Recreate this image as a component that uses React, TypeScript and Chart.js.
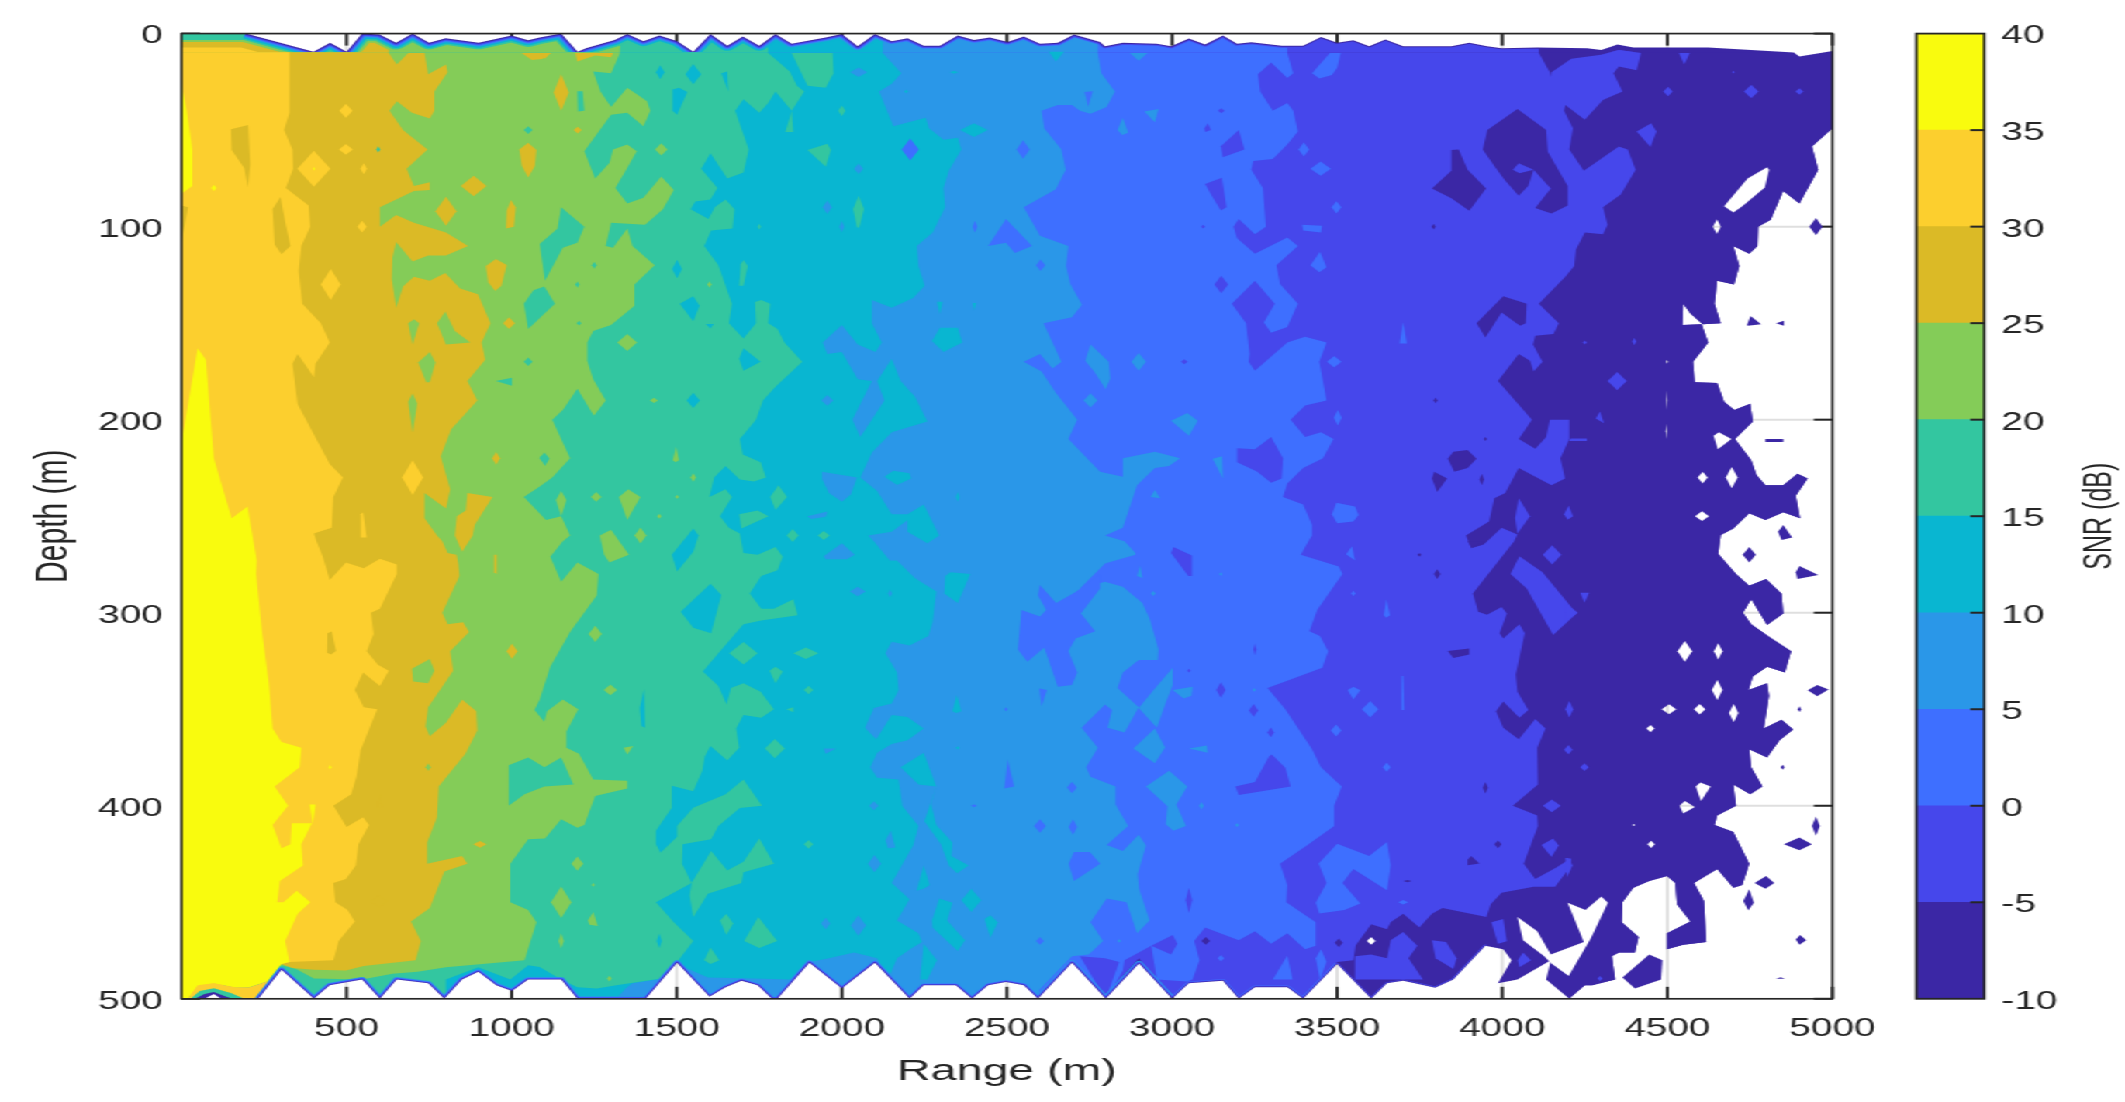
import React, { useEffect, useRef } from "react";
import { Chart, registerables } from "chart.js";

const eraser = {
  id: "eraser",
  beforeDatasetDraw(chart: any, args: any) {
    if (chart.data.datasets[args.index].erase) chart.ctx.globalCompositeOperation = "destination-out";
  },
  afterDatasetDraw(chart: any) {
    chart.ctx.globalCompositeOperation = "source-over";
  },
};
Chart.register(eraser, ...registerables);

const xTicks = [500, 1000, 1500, 2000, 2500, 3000, 3500, 4000, 4500, 5000];
const yTicks = [0, 100, 200, 300, 400, 500];
const levels = [-10, -5, 0, 5, 10, 15, 20, 25, 30, 35];
const colorbarMax = 40;
const bandColors = ["#3B27A5", "#4647EB", "#3E6FFF", "#2A97E8", "#09B6D1", "#33C6A0", "#84CC58", "#DBBA26", "#FCCF2E", "#F9FB0E"];

// contour boundaries, pairs of range (m), depth (m): the band lies to the left
const boundaryM10 = [5000,9,5000,49,4938,58.5,4957,70.5,4900,88,4851,81.6,4813,96.4,4775,100,4773,110,4748,114,4700,110,4718,120.4,4702,130,4651,128,4643,140,4662,150,4607,150.6,4570,145,4548,140,4546,151,4604,150.6,4624,160,4578,170,4583,180.6,4651,181,4672,190.7,4703,195,4751,191.7,4759,201,4705,210,4754,221,4770,228.6,4797,234,4851,234,4894,228,4925,230.5,4889,239.4,4902,251,4851,248,4797,252,4748,248.5,4700,256.4,4662,259.7,4654,269.4,4708,280,4748,286,4799,282.5,4846,290.2,4851,300.4,4802,306.3,4754,293,4729,300,4754,306,4808,312.4,4875,320,4856,331,4802,328,4759,333,4746,340,4802,336.5,4808,343,4792,360,4846,355.5,4881,360.5,4840,366,4802,375,4748,370.7,4754,380,4788,390,4751,394,4700,389,4708,400,4651,405,4643,410,4700,413.6,4748,430,4727,441,4700,442.5,4651,432.7,4581,440,4611,449.3,4618,470.6,4548,472,4499,474.3,4499,466,4570,460,4529,451,4524,440,4499,436.4,4445,439,4397,442.5,4364,450,4362,460.4,4413,468,4402,476,4353,476,4332,478,4342,490,4272,493,4250,493,4202,500];
const boundaryM5 = [4111,10,4144,20,4160,30,4144,31,4149,20,4209,13,4299,11,4353,8.5,4420,10,4407,19,4353,17,4337,20.5,4364,30,4305,34.4,4250,44.6,4191,37,4187,40,4214,49,4203,60,4247,71,4353,58.5,4380,60,4404,70.5,4359,83.4,4305,90,4319,99,4305,104,4250,103,4223,112,4218,120.4,4191,126,4111,140,4171,150,4155,155.6,4100,156.5,4093,161,4122,170,4095,175,4084,169.5,4050,166,3987,180,4090,200,4050,210,4100,215,4133,209,4144,200,4203,200,4203,210,4176,220,4190,230.5,4149,234,4050,225,4009,238,3976,240.7,3960,252.7,3890,260,3906,266.6,3944,264.7,3998,256,4046,259.5,4036,263,3911,290,3927,299.5,3954,301,3998,297,4014,300.4,3992,310.6,4003,313.3,4052,306,4068,310.6,4041,332,4046,341,4079,350.4,4052,354.4,4003,346,3981,351,4003,359.6,4050,365.5,4100,355,4131,360,4106,370,4108,389,4032,400,4106,405,4108,410.5,4065,430,4100,438,4165,431.8,4209,427,4209,431,4160,442,4095,442,3998,445,3965,451,3952,457.6,3819,453,3787,456,3749,463,3700,456,3662,460.4,3651,464,3603,461.4,3556,472.4,3549,480,3500,481,3397,500];
const boundary0 = [3349,10,3367,20.5,3349,23,3300,15,3260,21,3267,30,3305,40,3349,36,3367,40,3381,50.7,3349,57.5,3305,65,3246,66,3240,70.5,3275,80,3284,100,3251,104,3202,96,3186,100,3197,106,3251,114,3349,105.6,3381,110,3316,120,3327,129.7,3381,140,3349,152,3300,155,3278,149.7,3311,140,3251,128,3181,140,3224,150,3235,166,3232,170,3251,174.6,3349,160,3403,157,3468,160,3446,170,3468,190,3403,192.6,3359,200,3403,209,3451,206.5,3489,210,3457,220,3397,225,3349,233,3336,240,3397,244,3424,254.6,3424,260,3413,263,3390,270,3505,276,3516,280,3440,298.5,3416,309.6,3448,312,3473,320,3455,328.5,3359,334.6,3289,339,3343,350,3424,370.7,3451,380,3514,390,3491,400,3491,410.5,3408,420.6,3327,430,3349,441,3346,450,3435,460.4,3435,472.5,3403,474.3,3349,466,3300,471.5,3251,465,3202,469.7,3100,463,3067,470,3083,480,3062,490,3046,491,2954,490,2937,472.5,2856,480,2851,485.4,2802,500];
const boundary5 = [2775,10,2786,20.5,2827,30,2802,38,2753,41.5,2721,40,2697,37,2654,37,2605,40,2613,49,2665,60,2678,70.5,2648,80.6,2551,90,2600,104.7,2686,110,2679,120.4,2692,129.7,2727,140.4,2697,147,2611,150,2665,170,2638,173.5,2600,166,2551,170,2605,175,2648,186,2713,200,2686,210,2782,227,2851,229.6,2851,220,2948,216.6,3024,220,2991,224,2948,225,2894,234,2851,256,2797,260,2856,263,2889,269,2889,270,2797,274.5,2721,287.5,2797,284,2851,286.5,2910,295,2932,303,2959,319,2957,324.5,2899,324.5,2851,331,2835,339,2899,349,2856,362,2805,359.6,2818,350.4,2797,347.6,2726,359.6,2775,370,2740,380,2753,385,2829,390,2829,399.4,2867,410.5,2802,420.3,2851,423.4,2899,415,2921,420.6,2896,435.4,2900,443,2932,459.5,2894,466,2862,450,2802,448,2753,460.4,2791,470,2748,477,2697,478,2600,495,2592,500];
const boundary10 = [2124,10,2180,20.5,2151,26,2113,30,2156,48,2254,43.6,2264,49,2308,55,2351,54,2362,60,2324,71,2308,80,2313,90,2275,103,2227,110,2232,120.4,2251,130.6,2216,137,2151,142,2091,138,2091,150,2121,160,2102,165,2048,161,2000,151,1942,160,1956,166,2000,165,2048,179,2091,180,2032,200,2056,209,2129,190,2107,180,2151,168.5,2178,180,2221,188,2259,201,2151,206.5,2091,217,2056,230,2107,237,2151,249,2199,249,2248,244,2295,260,2259,264,2199,258,2199,252,2151,258,2080,260,2097,263,2145,273,2167,273,2221,282,2286,289,2275,305,2262,312,2205,317,2151,315,2132,321,2167,331,2172,340,2151,347,2097,349.4,2070,359.6,2104,365.5,2151,353,2199,354,2248,360,2199,366,2151,368,2107,372.6,2086,380,2107,385.5,2172,386.4,2183,400,2232,410.5,2216,420.6,2151,440,2205,448.4,2167,459.5,2232,466,2243,470.6,2210,474,2167,479,2140,490,2107,479,2037,476,1961,479,1902,481,1842,490,1734,489.5,1594,489,1501,482,1442,490,1366,492,1345,494.6,1317,500];
const boundary15 = [1777,10,1842,19.6,1864,27,1886,30,1848,40,1853,51,1829,51,1848,40,1799,30,1777,36,1750,41,1702,34,1677,40,1718,60,1702,72,1653,75,1602,62,1574,70,1623,80,1602,86,1556,87,1542,91,1596,96,1615,90,1648,86,1675,91,1669,101,1604,102,1583,110,1626,120,1667,140,1658,150,1702,158,1740,150,1737,139,1756,138,1783,140,1777,150,1805,153,1826,160,1880,170,1799,183,1761,190,1740,200,1691,210,1700,218,1754,222,1770,230,1734,232,1691,231,1648,224,1613,230,1599,240,1648,236,1667,240,1631,250,1658,256,1691,259,1702,269,1745,270,1799,266,1821,271,1805,278,1756,281,1721,290,1756,298,1794,298,1853,293,1866,301.3,1756,304,1702,306,1626,321,1579,330.4,1626,338,1651,347.6,1664,339,1702,336.5,1754,341,1794,350,1756,354.4,1702,353,1680,360,1689,370,1653,376.6,1602,369,1585,374.4,1577,382,1550,392.5,1485,389.6,1485,401,1437,413,1437,420,1451,424.4,1501,416,1501,410.5,1550,401,1648,394,1702,386.4,1758,400,1691,401.2,1626,410.5,1604,417.3,1518,420,1516,430,1545,440,1437,450,1491,460.4,1550,470,1501,481,1453,489.5,1317,493,1258,494.6,1199,494,1150,490,1085,483.5,1050,482.6,996,490,899,483.6,801,490,801,500];
const boundary20 = [1328,10,1301,20.5,1247,19.6,1269,30,1301,38,1350,28,1410,35,1420,40,1399,48,1350,41,1301,42,1220,61,1253,75,1296,67,1307,60,1350,57.5,1379,61,1345,71,1314,80,1350,88,1399,85,1453,74,1491,81,1458,91,1404,99,1301,98,1285,110,1307,111,1350,101,1366,110,1433,120,1372,130,1372,141,1301,151,1247,154,1229,160,1229,169.5,1247,179,1285,190,1249,198,1199,184,1155,195,1123,200,1177,220,1123,230,1085,234.6,1037,240,1104,252,1150,250,1177,260,1155,263,1117,271,1150,284,1199,274,1263,280,1258,291,1177,310,1117,328,1085,345,1069,350.4,1099,356.5,1107,351,1155,345,1202,350,1166,361.5,1166,370,1204,373,1247,386.4,1350,387,1350,391,1253,395,1220,410,1199,411.4,1150,407,1101,417,1050,417.3,996,430,996,450,1050,454,1075,460.4,1039,480,801,483.6,715,486,639,487,547,490,401,489.5,347,484.6,303,482.6];
const boundary25 = [628,10,652,16,687,10,736,10,747,21,801,16,806,20,766,30,766,40,752,44,698,41,652,35,630,40,671,50,745,60,682,70,704,79,752,77,752,81,704,81.6,601,90,601,100,650,94,704,98,801,103,868,110,801,115,747,115,700,118,650,108,639,116,637,127,650,142,671,131,704,126,752,128,799,124,844,132,898,135,936,150,909,160,920,169,866,180,896,190,817,205,785,219,814,236,801,246,736,238,736,251,774,260,790,263,806,269,833,270,839,275,842,281,790,300,806,306,853,305,871,310,814,320,823,330,747,349,739,359,752,364,801,357,850,345,893,351,896,361,860,373,779,390,774,406,744,419,744,430,850,426,866,430,796,434,752,453,695,460,725,470,709,480,552,483,498,485.4,401,485,336,484,303,482];
const boundary30 = [327,10,327,41,311,50,336,60,338,70,316,80,385,89,390,100,363,110,355,123,366,140,422,150,449,160,406,171,401,178,352,166,336,171,352,192,449,223,489,230,460,240,455,256,401,259,409,263,428,271,449,283,498,274,552,277,601,272,652,275,652,280,601,298,574,300,582,311,561,320,595,327,628,330,601,338,550,331,525,340,552,349,593,350,543,371,530,385,514,394,460,400,500,411,550,406,568,410,536,420,528,431,498,438,460,440,466,450,503,454,525,460,476,470,460,480,327,481,303,482];

const polysDark = [
  [3787,80.3,3846,71,3846,60.3,3868,60,3895,70.5,3951,80.3,3900,91.8,3846,85.3],
  [3941,60,3955,50,4046,39,4133,50,4138,61.2,4198,79,4198,89,4149,93.2,4100,90.3,4147,80.3,4095,70.5,4079,78.8,4050,84,4008,76,3976,68.6],
  [3922,150,4003,136,4074,140,4071,150,4054,151.3,3998,144.5,3949,157.4],
  [3835,220.3,3852,216.6,3895,215.7,3922,220.3,3895,225,3855,227],
  [3787,230.5,3794,227,3833,230.5,3803,237.5],
  [3835,319.8,3900,318.5,3900,321.7,3852,323.5],
  [3895,428,3906,426,3931,429.9,3895,430.8],
  [3895,263,3954,263,3906,266],
  [4741,151,4752,146.3,4784,150.6,4743,151.3],
  [4829,150,4853,148.7,4853,151.3],
  [4797,210,4851,210,4851,211.5,4797,211.5],
  [4835,258,4851,254.5,4878,261,4846,262.3],
  [4889,279,4900,275.8,4957,280.4,4894,282.5],
  [4925,340.2,4954,337.4,4988,339.8,4954,343.3],
  [4853,420,4900,416.4,4938,420,4900,423],
  [4764,440,4799,436.4,4824,440,4797,443],
  [4730,449.3,4748,443.2,4762,450.2,4745,454.3],
  [4889,469.3,4902,467,4921,469.7,4900,472],
  [4829,489.6,4856,489.6,4843,488.8],
  [4364,489,4445,477,4485,480,4481,490,4402,494.6],
  [2851,500,2851,488,2900,479,2937,488,2950,500],
];
const diamondsDark = [[3792,100,6,1.5],[3798,190,6,1.5],[3949,210,5,1],[3749,270,6,1],[3803,280,10,2.5],[3987,420,11,2],[3949,390.7,8,3],[3938,231,7,3],[3713,439,13,0.6],[4950,100,20,4.5],[4748,270,20,4],[4900,350,5,1.5],[4849,380,6,1.3],[4950,410.5,12,5],[3102,470,13,2],[3505,471,12,2.3]];
const polysIndigo = [
  [3148,58.4,3202,50,3219,60,3154,64],
  [3100,77.9,3151,74.7,3165,90,3148,91.7,3127,86],
  [3197,214.8,3251,215.3,3300,209,3336,220,3332,230.5,3300,232.7,3257,226.8,3197,222],
  [2997,269,3004,266,3060,270.4,3060,281,3049,281],
  [3098,49.2,3108,46.4,3118,50,3100,51],
  [3192,390,3251,387.7,3294,374.4,3302,373.5,3343,380.3,3359,390,3202,394.4],
  [2937,472.5,3002,467,3016,471.5,2997,477],
  [2721,478,2797,479,2840,481,2799,500],
  [3554,478,3603,477,3651,479,3662,469.7,3700,465.4,3743,472.5,3716,479,3760,490,3554,490],
  [3787,469.7,3830,470.6,3862,479,3852,484.5,3798,479],
  [3967,460.4,4003,458.6,4014,470.2,3987,471.5],
  [4047,480,4063,476,4087,480,4052,483.6],
  [4032,70.5,4050,67.1,4095,70.5,4052,72.3],
  [4039,250.9,4050,240.7,4084,250,4046,259],
  [4187,249,4201,244.4,4214,250,4198,251.8],
  [4025,280,4052,270.8,4122,279,4225,300.4,4154,311.5,4074,287.5],
  [4236,289.7,4263,289.7,4249,294.9],
  [4119,420.3,4154,417,4171,420.6,4149,426.6],
  [4407,50.7,4451,46.4,4467,50.7,4449,58.8],
  [4535,10,4568,10,4551,16],
  [4283,199.4,4296,195.7,4308,201.8],
  [4207,209.8,4256,209.8,4256,211,4202,211],
  [4191,295,4229,300,4191,304.5],
  [4191,427,4202,427,4213,431,4196,437],
];
const diamondsIndigo = [[3149,130,21,4.5],[3149,40,10,1.3],[3094,100,6,1],[3037,170,10,1.3],[3251,319,5,3],[3051,330,5,1],[3148,340,14,4],[3247,350.6,14,3.3],[3299,362,10,2.5],[3051,449,10,6.5],[4151,270,28,5],[4150,400,27,3.3],[4200,371,13,2.5],[4249,380,13,2],[4203,350,12,4.3],[4502,30,14,2.5],[4754,30,22,3.5],[4900,30,12,1.7],[4700,20,4,0.7],[4250,160,6,1],[4400,159.5,6,2],[4348,180,29,4.7],[4296,489.5,8,1.3]];
const polysRoyal = [
  [2443,110,2497,96,2576,110,2524,113.6,2497,108.4],
  [2735,30.3,2760,29.8,2746,37.7],
  [2600,285.6,2649,295,2708,289.3,2782,280,2782,287.5,2724,300.4,2767,309.6,2708,313.4,2686,319.8,2713,331,2697,337.4,2654,338.3,2613,318,2562,325.4,2533,319,2544,298.6,2600,301.9,2619,298.6,2594,291],
  [2598,339.3,2621,340,2605,348.5],
  [2492,391,2502,376,2522,390],
  [2687,430,2703,424,2751,424,2782,430,2703,439],
  [3424,20.5,3478,10,3511,10,3500,17.8,3484,21.5,3446,23.3],
  [3394,99,3454,99.5,3451,103,3397,102],
  [3419,120,3448,113,3468,121,3446,123.6],
  [3484,249,3498,243,3554,245,3565,249.4,3549,252.7,3500,253.6],
  [3689,160.6,3700,149.5,3711,160.6],
  [3527,269.7,3545,265.6,3554,273],
  [3641,301.3,3649,293,3660,301.3,3649,302.6],
  [3695,332.8,3700,332.8,3703,350.4,3695,350.4],
  [3532,340,3549,338.3,3570,340.2,3549,345],
  [3305,490,3349,477.6,3365,490],
  [3435,479,3451,474.3,3468,480.8,3448,490],
  [3500,419.7,3597,426,3651,418.8,3662,430.8,3651,443.8,3549,432.7,3516,440,3570,450.6,3522,454,3446,455.8,3435,450.3,3468,440,3444,429.9],
];
const diamondsRoyal = [[2549,60,20,4.8],[2207,60,26,5.7],[2602,120,14,3],[2403,100,7,3],[2497,350,5,1],[2400,400,9,0.8],[2697,390.5,15,3],[2600,410.5,18,3.5],[2700,411,13,4],[2600,470,12,2],[3399,60,16,3.7],[3450,70,31,3.7],[3498,90,15,3.2],[3491,170,22,3],[3502,199,12,4],[3650,380,12,2.4],[3600,350,25,4.3],[3497,361,16,3.1],[3700,450,15,1.2],[3549,290,6,1.5],[3148,479,10,1.7]];
const polysBlue = [
  [2835,50,2851,43.6,2867,51.4,2849,52.5],
  [2916,40.3,2959,39,2948,45.9],
  [2872,10,2926,10,2899,14],
  [2737,169.5,2753,161,2808,170,2813,178.7,2799,184.3,2764,175],
  [2997,200.5,3046,196.6,3078,200.5,3051,208.3],
  [3123,220.3,3152,219,3154,230.5],
  [2935,240,2948,236.4,2964,240.7],
  [2894,281,2903,275.4,2910,282],
  [3002,340,3062,338.3,3059,343,3035,344.4],
  [2899,349.4,2948,339.3,3002,328.5,3002,337.4,2981,346.6,2954,359.6],
  [2883,370.3,2948,360,2979,369.8,2948,378],
  [2921,390,2991,381.8,3046,390,3013,399.4,3042,410.5,3004,413,2981,409.6,2986,400.3],
  [3051,370.3,3105,368.8,3108,372.5],
  [1940,227,2046,230,2027,238.8,2000,242.5,1961,238,1940,230.7],
  [1896,250,1956,247.6,1951,250.3,1907,251.4],
  [1945,270.8,2000,264,2039,270,2015,272.3,1951,272.3],
  [1945,370.3,1983,370.3,1951,373],
  [2132,418,2148,413,2162,421.6,2140,422],
];
const diamondsBlue = [[2899,170,22,4.6],[2753,190,21,3.7],[2943,290,7,1.3],[3148,280,5,1],[3089,400,7,2],[3197,410,6,1],[3249,340,5,1],[2840,470,6,0.8],[2051,20,26,2.5],[1956,90,14,3.5],[2000,100,7,3],[2051,70,14,2.7],[1956,190,18,2.8],[2048,289,24,2.5],[2146,290,6,2],[2097,400,14,2.3],[2099,430,20,4.5],[1951,461,14,3],[2050,462,23,5.3]];
const polysCyan = [
  [1635,20.5,1653,19.6,1656,30],
  [1487,28.9,1507,28,1532,30.3,1501,42,1487,40],
  [1509,140,1550,136,1569,141,1550,149],
  [1588,150.4,1612,150.4,1602,152.8],
  [1689,168.5,1702,163,1754,170,1702,174.6],
  [1485,270,1550,256.4,1566,260,1550,268.4,1501,278.6],
  [1512,299.5,1602,285,1635,290.8,1604,310.6,1550,307.8],
  [1388,349.4,1401,339.6,1404,359.6,1393,358.7],
  [2273,159.3,2297,152.4,2351,152.4,2365,160,2308,165],
  [2129,229.6,2156,226.4,2205,227.7,2210,230.5,2167,233.8],
  [2288,138.9,2305,138.9,2297,145.4],
  [2396,139.5,2407,139.5,2400,143.5],
  [2627,9.4,2673,9.4,2648,14.4],
  [2313,281,2329,279,2389,280,2351,295,2310,290],
  [2335,351,2348,342.6,2362,351,2346,352],
  [2178,380,2248,372.6,2286,390,2232,389],
  [2286,390,2270,399,2286,410,2335,419,2332,426,2384,431,2349,435,2324,431,2300,420,2250,408],
  [2226,444,2248,431,2266,441,2248,443],
  [2273,459.5,2295,448,2335,450.3,2319,459.5,2373,469.7,2351,475.2,2275,463.2],
  [2432,458.6,2450,456.7,2472,460.4,2450,468.4],
  [2248,471.5,2288,480,2259,490,2237,490],
];
const diamondsCyan = [[1450,20,13,3.6],[1550,21,24,5.2],[1501,122,15,4.8],[1550,190,20,4],[1447,470,8,3.8],[2400,50,42,3.5],[2195,30,6,1],[2340,20,13,0.8],[2351,240,5,2.5],[2351,370,6,0.8],[2392,449,30,6]];
const polysTeal = [
  [1085,109,1139,101,1150,90,1220,100,1199,108.4,1155,111,1101,128],
  [1037,140,1066,133,1099,131,1131,140,1050,153],
  [952,180,1001,178.3,1001,182.4],
  [1085,219,1115,220,1101,224],
  [1199,29.8,1215,29.8,1220,40,1201,40.3],
  [991,379,1050,375,1099,380,1150,375,1187,389,1099,390,1039,394,991,400],
  [1848,10,1972,10,1975,20.5,1951,28,1896,27],
  [1896,60.3,1956,57,1967,60.3,1951,69],
  [2034,90.8,2051,84,2067,90.8,2053,100.4,2046,100.4],
  [1689,130.6,1694,119.5,1702,117.3,1715,120.4,1702,130.6],
  [1783,240,1808,234,1834,240,1799,246.8],
  [1689,249,1745,247,1778,250,1696,256.4],
  [1604,423.4,1653,433.6,1702,429,1750,417,1794,430,1702,434.5,1696,440,1594,445.6,1550,457.7,1539,446.5,1545,440],
  [1781,330,1799,328,1821,330.4,1799,336.5],
  [1832,350,1853,349,1853,351.6],
  [1631,459.5,1650,456,1671,461,1650,467],
  [1704,470,1747,457.6,1804,470,1750,473.7],
  [1583,480,1602,473.4,1629,480,1602,482],
];
const diamondsTeal = [[1050,50,13,2],[1050,170,13,2.2],[1099,220,15,3],[1250,120,7,1.8],[1199,130,6,1.6],[1204,150,7,1.2],[596,60,6,1.6],[2000,40,11,2.8],[1851,260,18,3.4],[1750,100,5,1.5],[1945,260,18,2.3],[1702,321,43,5.8],[1891,321,38,3],[1899,340,14,2.2],[1797,370.4,30,5],[1899,420,14,2.3]];
const polysGreen = [
  [687,150,704,148,720,150,700,161],
  [774,150,799,144,828,154,875,160,801,161],
  [717,170.4,752,165,769,170.4,752,180.6,741,180.6],
  [687,190.7,700,186.5,714,191.6,700,206.8],
  [698,329,752,324,766,330,747,336.5,702,335.6],
  [1134,241.6,1150,237,1166,241.6,1150,250],
  [1325,240,1353,236,1390,240,1350,252],
  [1267,260,1301,257,1355,270,1296,274,1280,270],
  [1488,221,1498,214,1507,221,1496,222],
  [1339,370,1368,369,1350,373.5],
  [1231,459.5,1247,455,1261,462.3,1236,461.7],
];
const diamondsGreen = [[747,380,8,2],[1453,60,19,3.2],[1599,130,6,1.7],[1350,160,30,4.4],[1431,190,12,1.3],[1550,230,8,2.2],[1256,240,16,2.5],[1501,240,6,1],[1447,250,7,1.3],[1390,260,18,4.2],[1253,311,20,4.2],[1299,340,20,2.8],[1199,430,18,3.7],[1150,450,31,8.2],[1150,470,8,4],[1247,441,5,1],[1296,489.5,7,1.5]];
const polysOlive = [
  [150,49.6,202,47.4,208,67.7,201,79.7,190,69.6,152,60.3],
  [276,90.8,300,84.7,314,97.3,330,110,303,114.3,282,109.3],
  [442,310.6,455,309.7,468,319.8,453,321.7,441,320.7],
  [0,89,20,90,0,108],
  [985,91.8,998,86.2,1012,90,1007,100,983,101],
  [922,120.4,952,116.7,985,119.9,969,130.6,950,133.4,929,128.8],
  [1023,60,1050,56.6,1075,60.3,1070,68.6,1050,74.5,1031,68.6],
  [1030,10,1120,10,1093,13.1,1061,13.7],
  [1193,10,1307,10,1301,12.2,1253,11.3,1199,14.4],
  [1085,10,1117,10,1101,13],
  [866,238,942,240,888,254.6,882,260,850,268.4,828,260,834,250,861,247],
  [947,270,955,270,955,280,947,279],
  [596,398,603,394,607,401,596,401],
];
const diamondsOlive = [[801,92,32,7.5],[885,79,39,5.3],[1150,30.5,23,9.5],[1200,50,12,1.8],[992,150,18,3],[953,220,12,3.3],[1001,320,16,4],[598,449.5,24,3.2],[904,420,20,1.7]];
const polysGold = [
  [543,249,550,248,561,261,543,261],
];
const diamondsGold = [[401,70,50,9.3],[498,40,20,3.7],[498,60,21,2.8],[552,70,10,2.8],[547,100,14,3],[452,130,30,8],[700,230,32,9]];
const polysYellow = [
  [0,26,16,40,33,60,33,79,0,83],
  [0,212,49,163,74,169,98,220,152,251,200,245,228,273,226,280,244,310,265,337,276,360,303,367,363,370,358,380,282,390,323,400,276,410,303,422,330,420,334,409,395,409,363,420,368,431,298,439,290,450,309,450,349,444,390,450,352,456,314,470,327,481,303,482,260,491,206,494,163,494.3,98,492,49,493.4,20,500,0,500],
  [388,399.4,406,399.4,398,409.6],
];
const diamondsYellow = [[98,80,8,1.7],[450,380,4,1.2],[401,70,3,1]];
const cornerGold = [20,500,49,493,98,492,163,494,206,494,260,491,290,486,233,500];
const cornerTeal = [28,500,55,496,98,494.5,150,497,190,500];
const cornerDark = [40,500,70,497.5,98,496.5,130,498.5,155,500];
const cornerWhite = [70,500,98,497.5,120,500];

const topEdge = [0,0,195,0,400,9.4,450,4.8,500,9.4,547,0,600,0.5,650,4.8,700,0,750,4.8,800,2.4,900,4.8,1000,1,1050,3.5,1085,2,1150,0,1200,9.4,1225,7.6,1312,3.3,1350,0.2,1399,3.9,1447,1,1502,4,1550,9.4,1602,0.2,1653,6.3,1700,1.5,1750,6.3,1799,0.2,1848,5.2,1951,2,2000,0.2,2048,6.6,2100,0.2,2151,3.9,2199,2.4,2248,6.3,2297,6.3,2351,1,2400,3.3,2448,2,2502,4.4,2551,1.5,2600,5.2,2654,4.8,2703,0.5,2782,4.4,2797,6.6,2851,4.8,2954,5.2,2997,6.6,3051,2.6,3100,5.7,3154,1,3197,5.2,3240,4.5,3332,6.3,3397,6.3,3451,1.8,3500,4.8,3549,3.5,3597,6.6,3646,3,3700,6.6,3846,6.6,3900,4.8,3954,6.6,3998,7.6,4106,7.2,4257,7.6,4300,8.5,4349,5.7,4397,7.2,4624,7.2,4883,9.8,4900,11.8,5000,9];
const bottomEdge = [233,500,303,485,401,500,449,493,547,490,601,500,652,490,747,492,796,500,850,490,899,486,953,493,1001,496,1050,490,1150,490,1199,500,1317,500,1406,500,1501,481.3,1599,499,1648,494,1696,490.6,1745,493,1788,500,1805,500,1902,481.3,2000,494.7,2100,481.3,2205,500,2248,493,2345,493,2394,500,2443,493,2497,491.3,2551,493,2594,500,2697,481.3,2799,500,2900,481.7,3000,500,3051,492,3154,490.6,3202,500,3251,494,3349,494,3397,500,3500,482,3603,500,3651,492,3700,490.6,3797,494.3,3852,490,3949,472.5,4003,474.3,4028,480,3987,491.9,4046,490,4147,480,4133,490,4203,500];
const polysWhite = [
  [4672,89.5,4743,75,4802,69.2,4808,70.5,4795,79.7,4727,89.5,4700,92.7],
  [4640,208.3,4656,206.5,4694,210,4653,215.3],
  [4586,390,4600,388,4631,390,4602,397.5],
  [4537,400,4553,397.5,4583,400.7,4548,404],
  [4046,457.6,4106,465,4147,477,4247,470.6,4198,450.3,4252,454,4300,447,4320,450.3,4268,468.7,4201,488.2,4149,481.7,4127,478,4063,469.7],
];
const diamondsWhite = [[4650,100,12,3.8],[4607,230,15,3],[4695,230,18,5.5],[4605,250,21,2.5],[4499,170,3,1],[4499,190,1.5,5],[4497,206,2,4],[4553,320,22,5.4],[4654,320,13,4.2],[4651,340,16,5.3],[4505,350,22,2.6],[4598,350,17,2.7],[4701,352,14,4.8],[4449,360,12,1.9],[4398,410,4,0.5],[4451,420,11,1.9],[3603,470,13,2]];

const mainBounds = [boundaryM10, boundaryM5, boundary0, boundary5, boundary10, boundary15, boundary20, boundary25, boundary30];
// band index, range from, range to, width
const topStrokes = [[7,0,627,28],[6,0,1328,17],[5,0,1777,13],[4,120,2124,10],[3,170,2775,7.5],[2,190,3349,5.5],[1,195,4111,4],[0,195,5000,2]];
const bottomStrokes = [[3,0,3000,5],[2,0,3500,3.5],[1,0,3990,2.5],[0,0,4210,1.2]];

const toPts = (flat: number[]) => {
  const out: { x: number; y: number }[] = [];
  for (let i = 0; i < flat.length; i += 2) out.push({ x: flat[i], y: flat[i + 1] });
  return out;
};
const diamond = ([r, d, hr, hd]: number[]) => [r - hr, d, r, d - hd, r + hr, d, r, d + hd];

function App() {
  const mainRef = useRef<HTMLCanvasElement>(null);
  const barRef = useRef<HTMLCanvasElement>(null);
  useEffect(() => {
    document.body.style.margin = "0";
    document.documentElement.style.overflow = "hidden";
    const font = { family: "'Liberation Sans', Arial, sans-serif", size: 25 };
    const layers: any[] = [];
    const shape = (flat: number[], color: string, erase = false) =>
      layers.push({ data: toPts(flat), showLine: true, fill: "shape", backgroundColor: color, borderWidth: 0, borderColor: color, pointRadius: 0, borderDash: [1, 0], erase });
    const stroke = (flat: number[], color: string, width: number) =>
      layers.push({ data: toPts(flat), showLine: true, fill: false, borderWidth: width, borderColor: color, pointRadius: 0, borderJoinStyle: "round" });
    const paintBands = (topDepth: number) =>
      mainBounds.forEach((b, i) => shape([0, topDepth, b[0], topDepth, ...b, 0, 500], bandColors[i]));
    const limited = (flat: number[], from: number, to: number) => {
      const out: number[] = [];
      for (let i = 0; i < flat.length; i += 2) if (flat[i] >= from && flat[i] <= to) out.push(flat[i], flat[i + 1]);
      return out;
    };
    paintBands(0);
    topStrokes.forEach(([c, from, to, w]) => stroke(limited(topEdge, from, to), bandColors[c], w));
    paintBands(9.6);
    const groups: [number[][], number[][], number][] = [
      [polysDark, diamondsDark, 0], [polysIndigo, diamondsIndigo, 1], [polysRoyal, diamondsRoyal, 2],
      [polysBlue, diamondsBlue, 3], [polysCyan, diamondsCyan, 4], [polysTeal, diamondsTeal, 5],
      [polysGreen, diamondsGreen, 6], [polysOlive, diamondsOlive, 7], [polysGold, diamondsGold, 8], [polysYellow, diamondsYellow, 9],
    ];
    groups.forEach(([ps, ds, c]) => {
      ps.forEach((p) => shape(p, bandColors[c]));
      ds.forEach((d) => shape(diamond(d), bandColors[c]));
    });
    shape(cornerGold, bandColors[8]);
    shape(cornerTeal, bandColors[5]);
    shape(cornerDark, bandColors[0]);
    bottomStrokes.forEach(([c, from, to, w]) => stroke(limited(bottomEdge, from, to), bandColors[c], w));
    shape([0, 0, ...topEdge, 5000, 0], "#000", true);
    shape(bottomEdge, "#000", true);
    shape(cornerWhite, "#000", true);
    polysWhite.forEach((p) => shape(p, "#000", true));
    diamondsWhite.forEach((d) => shape(diamond(d), "#000", true));
    layers.forEach((l, i) => (l.order = layers.length - i));

    const axesUnder = {
      id: "axesUnder",
      afterDatasetsDraw(chart: any) {
        const { ctx, chartArea: a, scales } = chart;
        ctx.save();
        ctx.globalCompositeOperation = "destination-over";
        ctx.lineWidth = 2;
        const seg = (x1: number, y1: number, x2: number, y2: number, c: string) => {
          ctx.strokeStyle = c;
          ctx.beginPath();
          ctx.moveTo(x1, y1);
          ctx.lineTo(x2, y2);
          ctx.stroke();
        };
        const len = 12;
        xTicks.forEach((v) => {
          const x = scales.x.getPixelForValue(v);
          seg(x, a.top, x, a.top + len, "#262626");
          seg(x, a.bottom, x, a.bottom - len, "#262626");
        });
        yTicks.forEach((v) => {
          const y = scales.y.getPixelForValue(v);
          seg(a.left, y, a.left + len, y, "#262626");
          seg(a.right, y, a.right - len, y, "#262626");
        });
        xTicks.forEach((v) => {
          const x = scales.x.getPixelForValue(v);
          seg(x, a.top, x, a.bottom, "#dfdfdf");
        });
        yTicks.forEach((v) => {
          const y = scales.y.getPixelForValue(v);
          seg(a.left, y, a.right, y, "#dfdfdf");
        });
        ctx.restore();
        ctx.save();
        ctx.strokeStyle = "#262626";
        ctx.lineWidth = 1.6;
        ctx.strokeRect(a.left, a.top, a.right - a.left, a.bottom - a.top);
        ctx.restore();
      },
    };
    const main = new Chart(mainRef.current!, {
      type: "scatter",
      data: { datasets: layers },
      options: {
        animation: false,
        responsive: false,
        devicePixelRatio: 1,
        events: [],
        layout: { padding: { left: 0, top: 33.6, right: 188.6, bottom: 0 } },
        plugins: { legend: { display: false }, tooltip: { enabled: false } },
        scales: {
          x: {
            type: "linear", min: 0, max: 5000, position: "bottom",
            grid: { display: false, drawTicks: false }, border: { display: false },
            afterBuildTicks: (s: any) => { s.ticks = xTicks.map((value) => ({ value })); },
            afterFit: (s: any) => { s.height = 103.2; },
            ticks: { color: "#262626", font, padding: 15, maxRotation: 0, autoSkip: false, callback: (v: any) => String(v) },
            title: { display: true, text: "Range (m)", color: "#262626", font: { ...font, size: 30 }, padding: { top: 0, bottom: 12 } },
          },
          y: {
            type: "linear", min: 0, max: 500, reverse: true, position: "left",
            grid: { display: false, drawTicks: false }, border: { display: false },
            afterBuildTicks: (s: any) => { s.ticks = yTicks.map((value) => ({ value })); },
            afterFit: (s: any) => { s.width = 117; },
            ticks: { color: "#262626", font, padding: 12, labelOffset: 3, autoSkip: false, callback: (v: any) => String(v) },
            title: { display: true, text: "Depth (m)", color: "#262626", font: { ...font, size: 30 }, padding: { top: 17, bottom: 0 } },
          },
        },
      } as any,
      plugins: [axesUnder],
    } as any);

    const barPlugin = {
      id: "barFrame",
      afterDraw(chart: any) {
        const { ctx, chartArea: a, scales } = chart;
        ctx.save();
        ctx.strokeStyle = "#262626";
        ctx.lineWidth = 2;
        levels.slice(1).forEach((v) => {
          const y = scales.y.getPixelForValue(v);
          ctx.beginPath();
          ctx.moveTo(a.right, y);
          ctx.lineTo(a.right - 9, y);
          ctx.stroke();
        });
        ctx.lineWidth = 1.8;
        ctx.strokeRect(a.left, a.top, a.right - a.left, a.bottom - a.top);
        ctx.translate(129, (a.top + a.bottom) / 2 + 0);
        ctx.rotate(-Math.PI / 2);
        ctx.fillStyle = "#262626";
        ctx.font = "25px 'Liberation Sans', Arial, sans-serif";
        ctx.textAlign = "center";
        ctx.textBaseline = "middle";
        ctx.fillText("SNR (dB)", 0, 0);
        ctx.restore();
      },
    };
    const bar = new Chart(barRef.current!, {
      type: "bar",
      data: {
        labels: ["SNR"],
        datasets: levels.map((l, i) => ({
          data: [[l, i + 1 < levels.length ? levels[i + 1] : colorbarMax]],
          backgroundColor: bandColors[i],
          barPercentage: 1,
          categoryPercentage: 1,
          grouped: false,
          borderWidth: 0,
        })),
      },
      options: {
        animation: false,
        responsive: false,
        devicePixelRatio: 1,
        events: [],
        layout: { padding: { left: 10.5, top: 33.6, right: 0, bottom: 103.2 } },
        plugins: { legend: { display: false }, tooltip: { enabled: false } },
        scales: {
          x: { display: false },
          y: {
            type: "linear", min: -10, max: colorbarMax, position: "right",
            grid: { display: false, drawTicks: false }, border: { display: false },
            afterBuildTicks: (s: any) => { s.ticks = [...levels, colorbarMax].map((value) => ({ value })); },
            afterFit: (s: any) => { s.width = 90.7; },
            ticks: { color: "#262626", font, padding: 11, labelOffset: 3, autoSkip: false, callback: (v: any) => String(v) },
          },
        },
      } as any,
      plugins: [barPlugin],
    } as any);
    return () => {
      main.destroy();
      bar.destroy();
    };
  }, []);
  return (
    <div style={{ position: "absolute", left: 0, top: 0, width: 1370, height: 1102, transform: `scaleX(${2125 / 1370})`, transformOrigin: "0 0" }}>
      <canvas ref={mainRef} width={1370} height={1102} style={{ position: "absolute", left: 0, top: 0 }} />
      <canvas ref={barRef} width={145} height={1102} style={{ position: "absolute", left: 1225, top: 0 }} />
    </div>
  );
}
export default App;
